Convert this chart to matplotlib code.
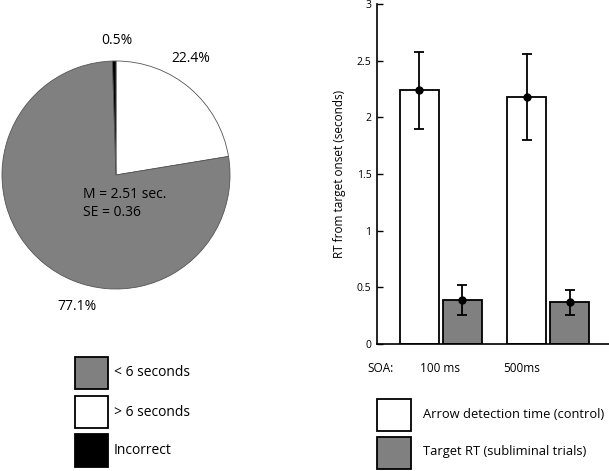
import matplotlib
matplotlib.use("Agg")
import numpy as np
from matplotlib import pyplot as plt
from matplotlib.patches import Rectangle

plt.rcParams['font.family'] = ['Open Sans', 'DejaVu Sans']

# pie data (clockwise from 12 o'clock)
pie_labels = ["> 6 seconds", "< 6 seconds", "Incorrect"]
pie_values = [22.4, 77.1, 0.5]
pie_colors = ["white", "#808080", "black"]

# bar data
soa_labels = ["100 ms", "500ms"]
control_rt = [2.24, 2.18]
control_lo = [1.90, 1.80]
control_hi = [2.58, 2.56]
target_rt = [0.39, 0.37]
target_lo = [0.26, 0.26]
target_hi = [0.52, 0.48]

W, H = 609, 471
fig = plt.figure(figsize=(W / 100, H / 100), dpi=100)


def fx(px):
    return px / W


def fy(py):
    return 1 - py / H


def box(ax_rect):
    # pixel rect (left, top, right, bottom) -> figure fractions
    l, t, r, b = ax_rect
    return [fx(l), fy(b), fx(r) - fx(l), fy(t) - fy(b)]


# ---- pie ----
cx, cy, rad = 116, 175, 114
ax1 = fig.add_axes(box((cx - rad, cy - rad, cx + rad, cy + rad)))
ax1.pie(pie_values, colors=pie_colors, startangle=90, counterclock=False,
        wedgeprops=dict(edgecolor="#555555", linewidth=0.6))
ax1.set_xlim(-1, 1)
ax1.set_ylim(-1, 1)
ax1.set_aspect("equal")


def pie_xy(px, py):
    return (px - cx) / rad, (cy - py) / rad


for txt, (px, py), ha in [("0.5%", (117, 40), "center"),
                          ("22.4%", (191, 58), "center"),
                          ("77.1%", (77, 306), "center"),
                          ("M = 2.51 sec.", (83, 195), "left"),
                          ("SE = 0.36", (83, 213), "left")]:
    x, y = pie_xy(px, py)
    ax1.text(x, y, txt, ha=ha, va="center", fontsize=10, clip_on=False)

# pie legend
for (t, b), c, lab in zip([(357, 389), (396, 428), (434, 467)],
                          ["#808080", "white", "black"],
                          ["< 6 seconds", "> 6 seconds", "Incorrect"]):
    fig.patches.append(Rectangle((fx(75), fy(b)), fx(108) - fx(75), fy(t) - fy(b),
                                 transform=fig.transFigure, facecolor=c,
                                 edgecolor="black", linewidth=1.3))
    fig.text(fx(114), fy((t + b) / 2), lab, ha="left", va="center", fontsize=10)

# ---- bars ----
ax2 = fig.add_axes(box((377, 4, 609, 344)))
x = np.arange(len(soa_labels))
bw = 0.364
off = 0.2
ax2.bar(x - off, control_rt, bw, color="white", edgecolor="black", linewidth=1.3)
ax2.bar(x + off, target_rt, bw, color="#808080", edgecolor="black", linewidth=1.3)
ax2.errorbar(x - off, control_rt,
             yerr=[np.subtract(control_rt, control_lo), np.subtract(control_hi, control_rt)],
             fmt="o", color="black", markersize=5, capsize=3.5, elinewidth=1.3, capthick=1.3)
ax2.errorbar(x + off, target_rt,
             yerr=[np.subtract(target_rt, target_lo), np.subtract(target_hi, target_rt)],
             fmt="o", color="black", markersize=5, capsize=3.5, elinewidth=1.3, capthick=1.3)
ax2.set_xlim(-0.596, 1.568)
ax2.set_ylim(0, 3)
ax2.set_yticks([0, 0.5, 1, 1.5, 2, 2.5, 3])
ax2.set_yticklabels(["0", "0.5", "1", "1.5", "2", "2.5", "3"])
ax2.tick_params(axis="y", direction="in", length=4, width=1, labelsize=7.5, pad=4)
ax2.set_xticks([])
for s in ["top", "right"]:
    ax2.spines[s].set_visible(False)
for s in ["left", "bottom"]:
    ax2.spines[s].set_linewidth(1.2)
ax2.set_ylabel("RT from target onset (seconds)", fontsize=8.5, labelpad=8)

fig.text(fx(367), fy(368), "SOA:", ha="left", va="center", fontsize=8.5)
fig.text(fx(420), fy(368), soa_labels[0], ha="left", va="center", fontsize=8.5)
fig.text(fx(503), fy(368), soa_labels[1], ha="left", va="center", fontsize=8.5)

for (t, b), c, lab in zip([(399, 431), (437, 469)],
                          ["white", "#808080"],
                          ["Arrow detection time (control)", "Target RT (subliminal trials)"]):
    fig.patches.append(Rectangle((fx(377), fy(b)), fx(411) - fx(377), fy(t) - fy(b),
                                 transform=fig.transFigure, facecolor=c,
                                 edgecolor="black", linewidth=1.3))
    fig.text(fx(423), fy((t + b) / 2 - 1), lab, ha="left", va="center", fontsize=9.3)

fig.savefig("out.png", dpi=100)
